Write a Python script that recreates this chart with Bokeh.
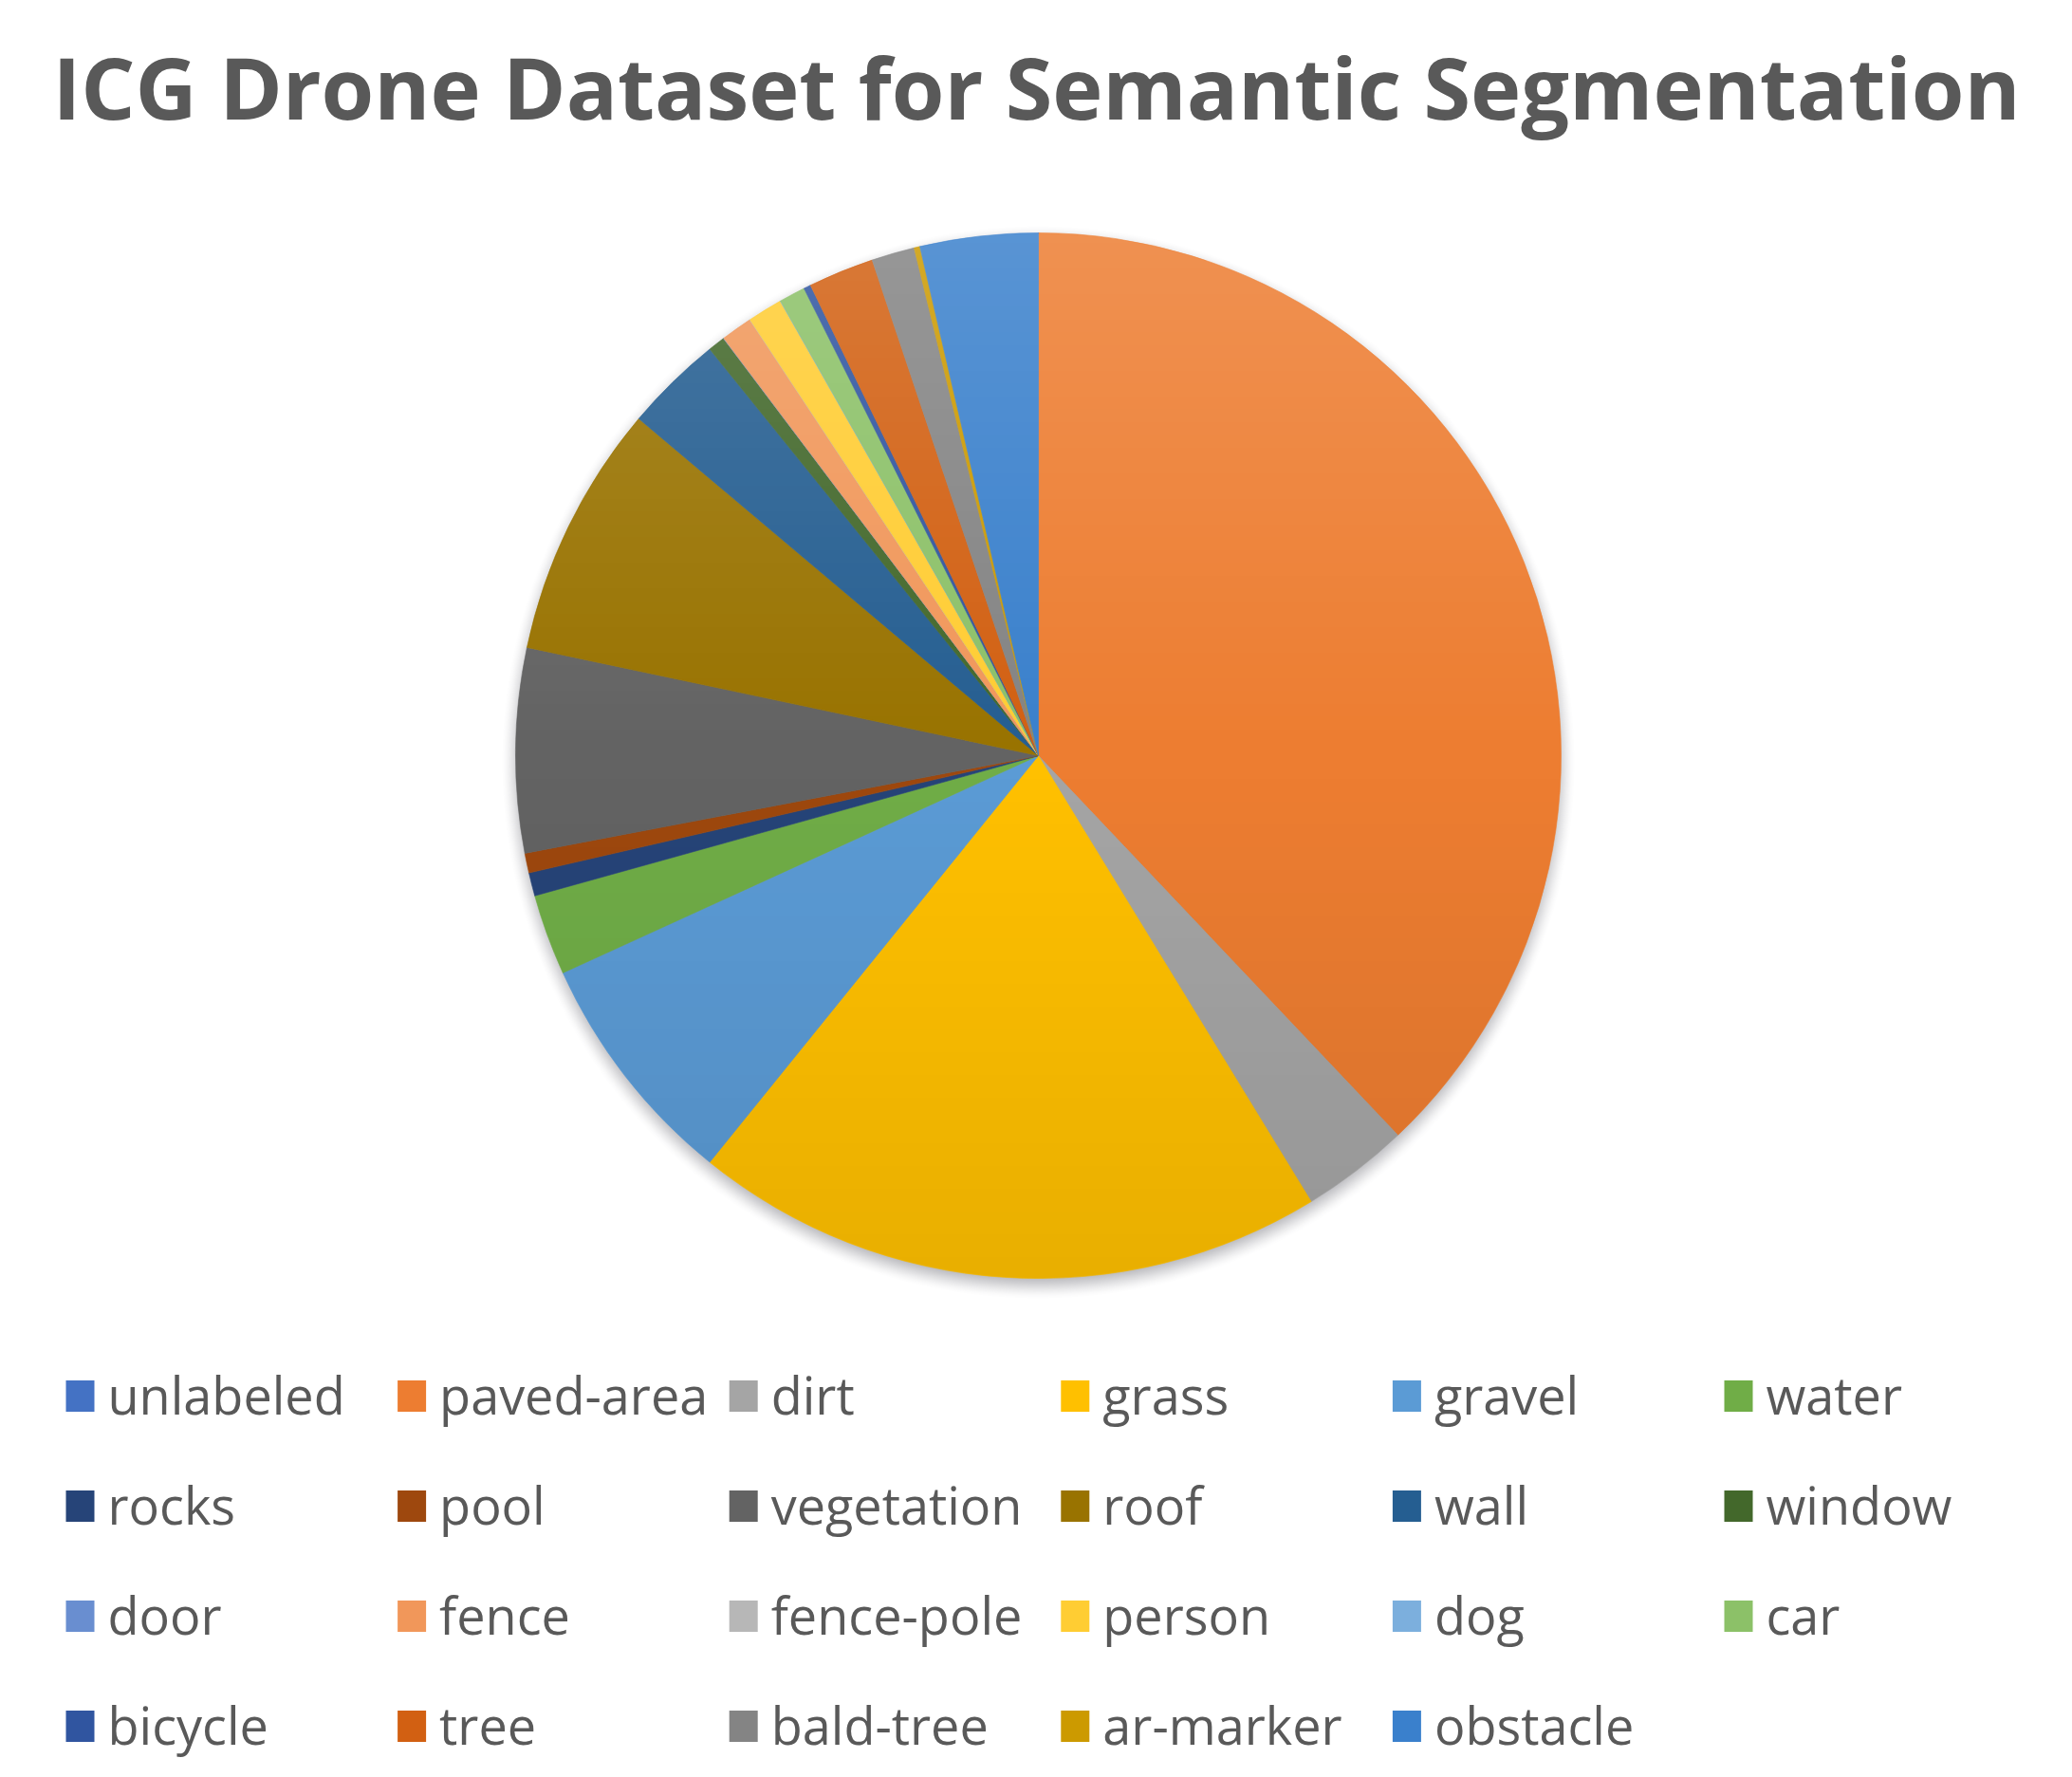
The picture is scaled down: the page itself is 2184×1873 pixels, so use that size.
import numpy as np
from bokeh.plotting import figure
from bokeh.models import Range1d, ColumnDataSource
from bokeh.embed import file_html
from bokeh.resources import INLINE
from bokeh.core.properties import value

# ---------------- data ----------------
title_text = "ICG Drone Dataset for Semantic Segmentation"
categories = ["unlabeled", "paved-area", "dirt", "grass", "gravel", "water",
              "rocks", "pool", "vegetation", "roof", "wall", "window",
              "door", "fence", "fence-pole", "person", "dog", "car",
              "bicycle", "tree", "bald-tree", "ar-marker", "obstacle"]
shares = [0.01, 37.92, 3.33, 19.56, 7.36, 2.50,
          0.72, 0.61, 6.31, 7.83, 3.03, 0.53,
          0.01, 0.97, 0.01, 1.08, 0.01, 0.81,
          0.22, 2.03, 1.33, 0.18, 3.64]
colors = ["#4472C4", "#ED7D31", "#A5A5A5", "#FFC000", "#5B9BD5", "#70AD47",
          "#264478", "#9E480E", "#636363", "#997300", "#255E91", "#43682B",
          "#698ED0", "#F1975A", "#B7B7B7", "#FFCD33", "#7CAFDD", "#8CC168",
          "#3055A0", "#D26012", "#848484", "#CC9A00", "#3A80CC"]

# ---------------- layout ----------------
W, H = 2168, 1865
CX, CY, R = 1094.0, 796.0, 551.0
TEXT_COLOR = "#595959"

p = figure(width=W, height=H, x_range=Range1d(0, W), y_range=Range1d(-H, 0),
           output_backend="svg", toolbar_location=None, x_axis_type=None, y_axis_type=None,
           min_border=0)
p.outline_line_color = None
p.background_fill_color = "white"
p.border_fill_color = "white"

# ---- soft shadow behind pie ----
pad = 50
S = int(2 * (R + pad))
y0_page = CY + R + pad  # page y of image bottom row
rows = np.arange(S)
cols = np.arange(S)
page_y = y0_page - rows[:, None] - 0.5
page_x = (CX - R - pad) + cols[None, :] + 0.5
d_sh = np.sqrt((page_x - CX) ** 2 + (page_y - (CY + 7)) ** 2)
blur = 16.0
tt = np.clip((R + blur - d_sh) / (2 * blur), 0, 1)
a_sh = (0.5 * tt * tt * (3 - 2 * tt) * 255).astype(np.uint32)
shadow = np.zeros((S, S), dtype=np.uint32)
view = shadow.view(dtype=np.uint8).reshape((S, S, 4))
view[:, :, 0] = 90
view[:, :, 1] = 90
view[:, :, 2] = 100
view[:, :, 3] = a_sh.astype(np.uint8)
p.image_rgba(image=[shadow], x=CX - R - pad, y=-y0_page, dw=S, dh=S)

# ---- pie wedges ----
vals = np.array(shares, dtype=float)
frac = vals / vals.sum()
cum_end = np.cumsum(frac)
cum_start = cum_end - frac
src = ColumnDataSource(dict(
    cat=categories, color=colors,
    start=np.pi / 2 - cum_start * 2 * np.pi,
    end=np.pi / 2 - cum_end * 2 * np.pi,
))
p.wedge(x=CX, y=-CY, radius=R, start_angle="start", end_angle="end", direction="clock",
        fill_color="color", line_color="color", line_width=0.6, source=src)

# ---- gradient sheen overlay (lighter top, darker bottom) ----
d_pie = np.sqrt((page_x - CX) ** 2 + (page_y - CY) ** 2)
cov = np.clip(R - d_pie + 0.5, 0, 1)
t = np.clip((page_y - (CY - R)) / (2 * R), 0, 1)
grad = np.zeros((S, S), dtype=np.uint32)
gv = grad.view(dtype=np.uint8).reshape((S, S, 4))
top = t < 0.5
white_a = 0.16 * (0.5 - t) * 2
black_a = 0.09 * (t - 0.5) * 2
alpha = np.where(top, white_a, black_a) * cov
gv[:, :, 0] = np.where(top, 255, 0).astype(np.uint8)
gv[:, :, 1] = np.where(top, 255, 0).astype(np.uint8)
gv[:, :, 2] = np.where(top, 255, 0).astype(np.uint8)
gv[:, :, 3] = (alpha * 255).astype(np.uint8)
p.image_rgba(image=[grad], x=CX - R - pad, y=-y0_page, dw=S, dh=S)

# ---- title ----
p.text(x=[1092], y=[-90], text=[title_text], text_font=value("Open Sans"),
       text_font_style="bold", text_font_size="90px", text_color=TEXT_COLOR,
       text_align="center", text_baseline="middle")

# ---- legend (6 columns x 4 rows) ----
n = len(categories)
idx = np.arange(n)
col = idx % 6
row = idx // 6
sq_left = 69 + col * 349.6
sq_cy = 1471 + row * 116.0
leg = ColumnDataSource(dict(
    cat=categories, color=colors,
    sx=sq_left + 15, sy=-sq_cy,
    tx=sq_left + 44, ty=-(sq_cy - 2),
))
p.rect(x="sx", y="sy", width=30, height=33, fill_color="color", line_color=None, source=leg)
p.text(x="tx", y="ty", text="cat", text_font=value("Open Sans"), text_font_size="54px",
       text_color=TEXT_COLOR, text_align="left", text_baseline="middle", source=leg)

open("out.html", "w").write(file_html(p, INLINE))
